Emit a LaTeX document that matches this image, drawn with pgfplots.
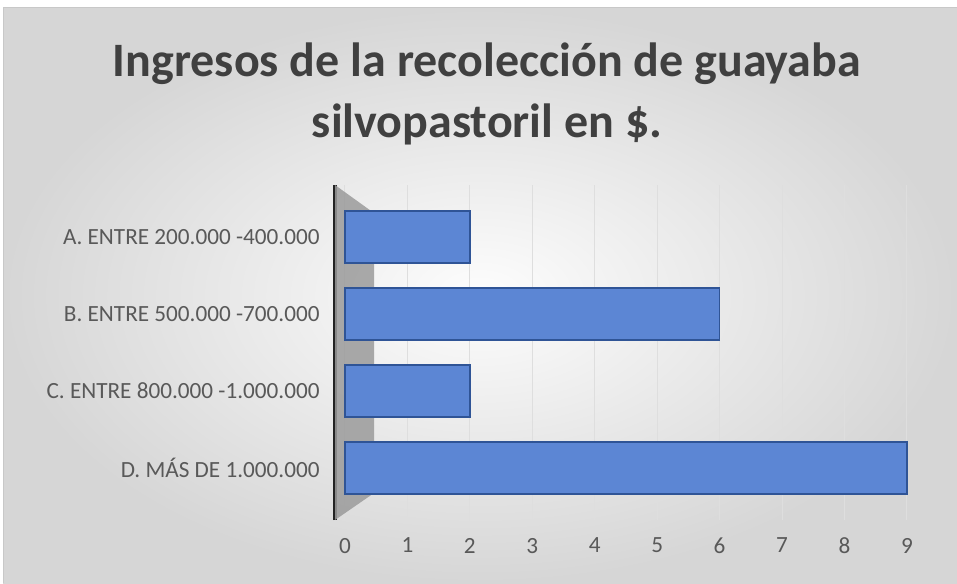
\documentclass[border=0pt]{standalone}
\usepackage{pgfplots}
\pgfplotsset{compat=1.18}
\usepackage{fontspec}
\setmainfont{Carlito}
\definecolor{barfill}{RGB}{92,134,212}
\definecolor{barline}{RGB}{47,84,150}
\definecolor{txt}{RGB}{89,89,89}
\definecolor{titletxt}{RGB}{64,64,64}
\definecolor{gridc}{RGB}{222,222,222}
\definecolor{wall}{RGB}{155,155,155}
\definecolor{bgin}{RGB}{253,253,253}
\definecolor{bgout}{RGB}{214,214,214}
\definecolor{bord}{RGB}{200,200,200}
\definecolor{axl}{RGB}{35,35,35}
\begin{document}
\begin{tikzpicture}[x=0.75pt,y=0.75pt]
\useasboundingbox (0,0) rectangle (957,583);
\fill[white] (0,0) rectangle (957,583);
\shade[inner color=bgin, outer color=bgout] (3,0) rectangle (957,575);
\draw[bord, line width=0.75pt] (3,0) -- (3,575) -- (957,575);
\node[align=center, font=\fontsize{36}{46}\selectfont\bfseries, text=titletxt] at (487,489) {Ingresos de la recolección de guayaba\\silvopastoril en \$.};
\begin{axis}[
  at={(251.25pt,47.25pt)}, anchor=south west,
  scale only axis, width=442.5pt, height=251.25pt,
  xmin=-0.16, xmax=9.29, ymin=-0.675, ymax=3.675,
  xbar, bar width=39pt,
  xtick={0,1,...,9}, ytick={0,1,2,3},
  yticklabels={D. MÁS DE 1.000.000, C. ENTRE 800.000 -1.000.000, B. ENTRE 500.000 -700.000, A. ENTRE 200.000 -400.000},
  major tick length=0pt,
  axis x line*=bottom, axis y line*=left,
  x axis line style={draw=none},
  y axis line style={draw=axl, line width=3pt},
  xmajorgrids, grid style={gridc, line width=0.75pt},
  tick label style={text=txt, font=\fontsize{17.4}{21}\selectfont},
  xticklabel style={yshift=-10pt},
  yticklabel style={xshift=-8pt},
  /pgf/number format/assume math mode=true,
  clip=false,
]
\fill[wall, opacity=0.85] (axis cs:-0.16,3.675) -- (axis cs:0.465,3.31) -- (axis cs:0.465,-0.325) -- (axis cs:-0.16,-0.675) -- cycle;
\addplot[fill=barfill, draw=barline, line width=1pt] coordinates {(9,0) (2,1) (6,2) (2,3)};
\end{axis}
\end{tikzpicture}
\end{document}
